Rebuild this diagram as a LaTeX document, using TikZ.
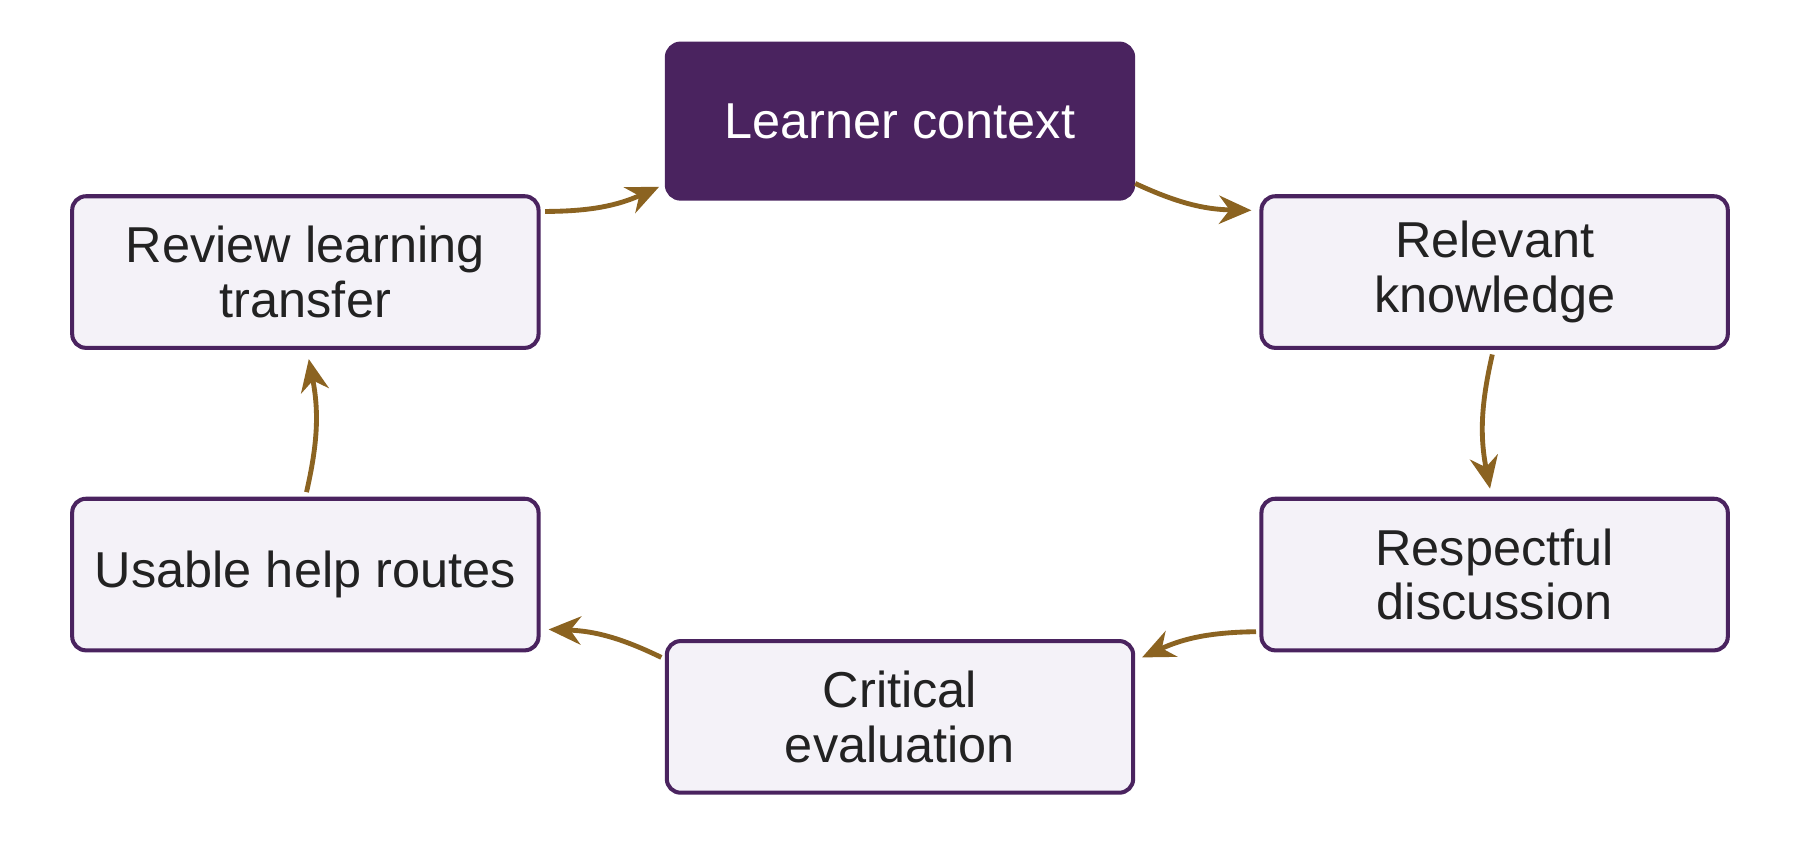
\documentclass[tikz,border=0pt]{standalone}
\usepackage{fontspec}
\setmainfont{Liberation Sans}
\usetikzlibrary{calc,arrows.meta}
\definecolor{plum}{HTML}{4A235F}
\definecolor{pale}{HTML}{F4F2F8}
\definecolor{ochre}{HTML}{8B6321}
\definecolor{ink}{HTML}{222222}
\begin{document}
\begin{tikzpicture}[x=0.01cm,y=-0.01cm]
    \tikzstyle{stage} = [draw=plum, line width=1pt, fill=pale, rounded corners=0.12cm,
      minimum width=4.06cm, minimum height=1.32cm, align=center, text=ink,
      font=\fontsize{12.5}{13.5}\selectfont]
    \tikzstyle{start} = [stage, fill=plum, text=white, minimum height=1.35cm]
    \tikzstyle{flow} = [draw=ochre, line width=1.2pt, -{Stealth[length=8pt,width=7pt]}, bend right=12]
    \useasboundingbox (0,0) rectangle (1568,752);
    \node[start] (lc) at (784,105.5) {Learner context};
    \node[stage] (rk) at (1302,237) {Relevant\\knowledge};
    \node[stage] (rd) at (1302,500.5) {Respectful\\discussion};
    \node[stage] (ce) at (784,624.5) {Critical\\evaluation};
    \node[stage] (uh) at (266,500.5) {Usable help routes};
    \node[stage] (rt) at (266,237) {Review learning\\transfer};
    \draw[flow] ($(lc.south east)+(0,-15)$) to ($(rk.north west)+(-7,14)$);
    \draw[flow] ($(rk.south)+(-2,4)$) to ($(rd.north)+(-4,-7)$);
    \draw[flow] ($(rd.south west)+(-3,-18)$) to ($(ce.north east)+(6,16)$);
    \draw[flow] ($(ce.north west)+(-3,16)$) to ($(uh.south east)+(7,-20)$);
    \draw[flow] ($(uh.north)+(1,-4)$) to ($(rt.south)+(3,8)$);
    \draw[flow] ($(rt.north east)+(4,15)$) to ($(lc.south west)+(-5,-12)$);
\end{tikzpicture}
\end{document}
